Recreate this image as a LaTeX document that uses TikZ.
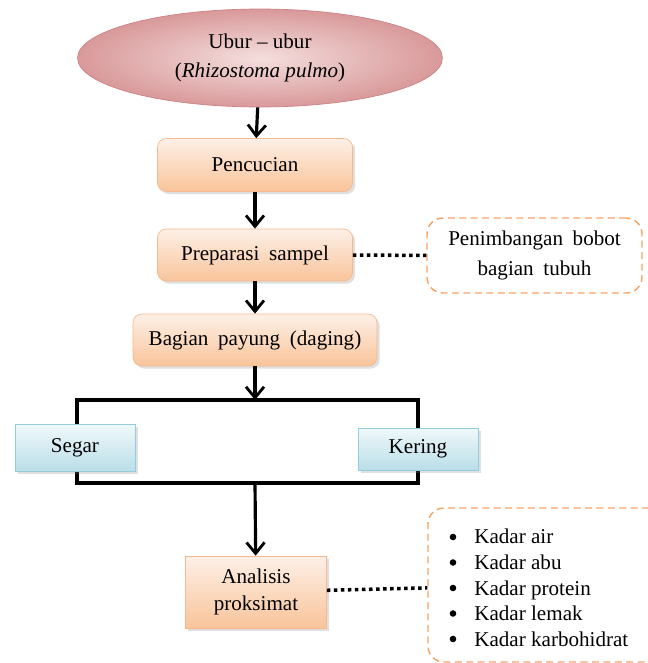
\documentclass[tikz,border=0pt]{standalone}
\usepackage{fontspec}
\setmainfont{Liberation Serif}
\usetikzlibrary{shapes.geometric,arrows.meta,shadows}

\definecolor{pinkfill}{HTML}{F4DEDD}
\definecolor{pinkdark}{HTML}{D9999A}
\definecolor{pinkline}{HTML}{CD8385}
\definecolor{orangetop}{HTML}{FDF0E7}
\definecolor{orangebot}{HTML}{F9C49A}
\definecolor{orangeline}{HTML}{F6B98D}
\definecolor{dashline}{HTML}{F7A366}
\definecolor{bluetop}{HTML}{F0F8FA}
\definecolor{bluebot}{HTML}{B9DEE8}
\definecolor{blueline}{HTML}{93CDDC}

\newcommand{\basefont}{\fontsize{12}{14.6}\selectfont}
\newcommand{\widespace}{\spaceskip 5.5pt plus 1pt\relax}

\tikzset{
  stepbox/.style={draw=orangeline,rounded corners=5pt,top color=orangetop,bottom color=orangebot,
    align=center,drop shadow={shadow xshift=1.5pt,shadow yshift=-1.5pt,opacity=0.25}},
  typebox/.style={draw=blueline,top color=bluetop,bottom color=bluebot,
    minimum width=2.4cm,drop shadow={shadow xshift=1.5pt,shadow yshift=-1.5pt,opacity=0.25}},
  notebox/.style={draw=dashline,rounded corners=9pt,thick,dash pattern=on 4pt off 2.5pt},
  flow/.style={-{Straight Barb[length=2.2mm,width=3.6mm,line width=1.6pt]},line width=1.8pt},
  link/.style={line width=2pt,dotted},
  widesp/.style={font=\basefont\widespace}
}

\begin{document}
\begin{tikzpicture}[x=0.02cm,y=-0.02cm,font=\basefont]
\useasboundingbox (0,0) rectangle (647,663);

% Sample
\node[ellipse,draw=pinkline,inner color=pinkfill,outer color=pinkdark,minimum width=7.3cm,minimum height=1.96cm,align=center] (ubur) at (260,58) {Ubur -- ubur\\[2pt](\textit{Rhizostoma pulmo})};

% Main steps
\node[stepbox,minimum width=3.9cm,minimum height=1.06cm] (cuci) at (255,165) {Pencucian};
\node[stepbox,widesp,minimum width=3.9cm,minimum height=1.04cm] (prep) at (255,255) {Preparasi sampel};
\node[stepbox,widesp,minimum width=4.88cm,minimum height=1.04cm] (payung) at (255,340) {Bagian payung (daging)};

\draw[flow] (ubur) -- (cuci);
\draw[flow] (cuci) -- (prep);
\draw[flow] (prep) -- (payung);

% Weighing note
\node[notebox,widesp,minimum width=4.3cm,minimum height=1.5cm,align=center] (timbang) at (534.5,255.5) {Penimbangan bobot\\[2pt]bagian tubuh};
\draw[link] (prep) -- (timbang);

% Split into fresh and dry
\coordinate (splittop) at (255,400);
\coordinate (splitbot) at (255,483);
\draw[flow] (payung) -- (splittop);
\draw[line width=1.8pt] (77,400) rectangle (418,483);
\node[typebox,minimum height=0.94cm] (segar) at (75,448) {Segar};
\node[typebox,minimum height=0.84cm] (kering) at (418,449) {Kering};

% Proximate analysis
\node[stepbox,rounded corners=0pt,minimum width=2.82cm,minimum height=1.44cm] (analisis) at (256,592) {Analisis\\[1pt]proksimat};
\draw[flow] (splitbot) -- (analisis);

% Parameters
\node[notebox,minimum width=4.74cm,minimum height=3.08cm] (kadar) at (546.5,585) {};
\node[anchor=north west,align=left,inner sep=0pt] (daftar) at (474,529) {%
Kadar air\\
Kadar abu\\
Kadar protein\\
Kadar lemak\\
Kadar karbohidrat};
\fill (453,537) circle (3.3);
\fill (453,562.5) circle (3.3);
\fill (453,588) circle (3.3);
\fill (453,613.5) circle (3.3);
\fill (453,639) circle (3.3);
\draw[link] (analisis) -- (kadar);
\end{tikzpicture}
\end{document}
